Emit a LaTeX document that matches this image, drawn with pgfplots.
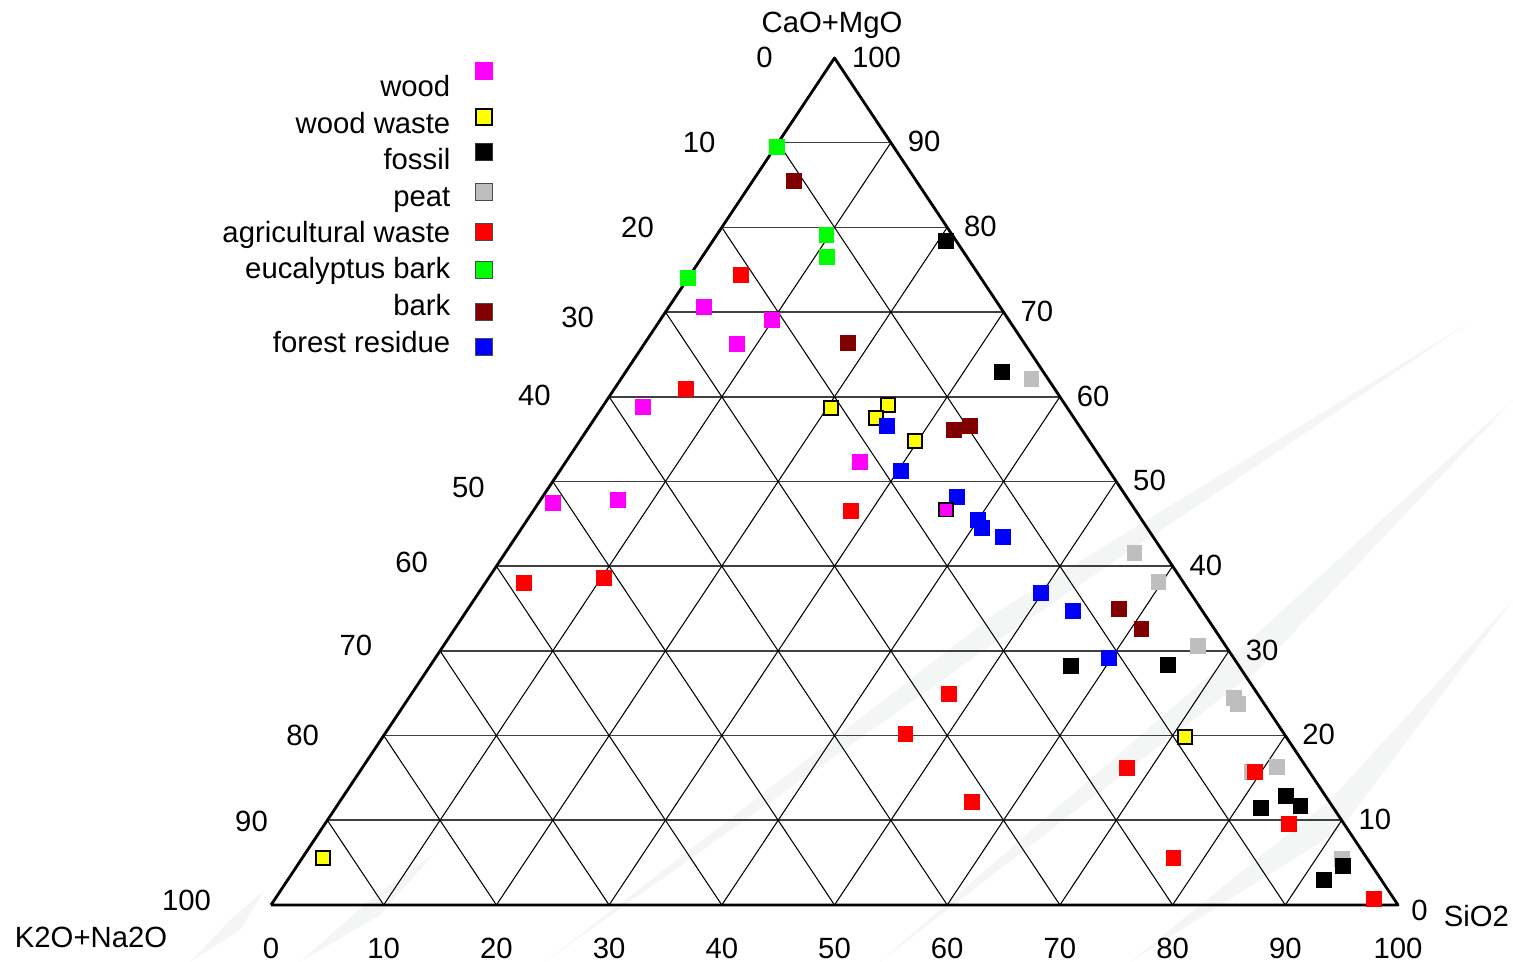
\documentclass[border=0pt]{standalone}
\usepackage{pgfplots}
\pgfplotsset{compat=1.18}
\usepackage{fontspec}
\setmainfont{Liberation Sans}
\definecolor{peat}{HTML}{BEBEBE}
\definecolor{barkc}{HTML}{800000}
\definecolor{mag}{HTML}{FF00FF}
\definecolor{grn}{HTML}{00FF00}
\definecolor{yel}{HTML}{FFFF00}
\definecolor{rd}{HTML}{FF0000}
\definecolor{bl}{HTML}{0000FF}
\definecolor{wm}{HTML}{F4F6F5}
\definecolor{hgrid}{HTML}{404040}
\tikzset{lbl/.style={font=\fontsize{8.33}{10}\selectfont, inner sep=0pt}}
\pgfplotsset{
  pt/.style={only marks, mark=square*, mark size=2.1pt, mark options={line width=0.1pt}},
  bpt/.style={only marks, mark=square*, mark size=1.95pt, mark options={draw=black, line width=0.6pt}},
  lg/.style={only marks, mark=square*, mark size=2.45pt, mark options={line width=0.4pt}}}
\begin{document}
\begin{tikzpicture}
\begin{axis}[width=15.13cm,height=9.62cm,scale only axis,hide axis,clip=false,
  xmin=-24.046,xmax=110.204,ymin=-6.730,ymax=106.848]

% faint watermark streaks
\addplot[fill=wm, draw=none] coordinates {(24.31,-6.73) (64.69,34.83) (106.39,68.83) (65.57,32.23)};
\addplot[fill=wm, draw=none] coordinates {(54.04,-6.73) (86.87,31.29) (110.2,59.62) (87.76,27.98)};
\addplot[fill=wm, draw=none] coordinates {(76.22,-6.73) (93.97,12.40) (110.2,36.01) (94.86,8.85)};
\addplot[fill=wm, draw=none] coordinates {(2.57,-6.73) (8.78,0.59) (14.55,6.14) (9.67,-1.18)};
\addplot[fill=wm, draw=none] coordinates {(-7.19,-6.73) (-3.64,-1.77) (-0.53,1.77) (-2.75,-2.95)};

% grid: horizontal
\addplot[hgrid, line width=0.45pt, unbounded coords=jump] coordinates {
(5,10) (95,10) (nan,nan) (10,20) (90,20) (nan,nan) (15,30) (85,30) (nan,nan)
(20,40) (80,40) (nan,nan) (25,50) (75,50) (nan,nan) (30,60) (70,60) (nan,nan)
(35,70) (65,70) (nan,nan) (40,80) (60,80) (nan,nan) (45,90) (55,90)};
% grid: parallel to left side
\addplot[black, line width=0.3pt, unbounded coords=jump] coordinates {
(10,0) (55,90) (nan,nan) (20,0) (60,80) (nan,nan) (30,0) (65,70) (nan,nan)
(40,0) (70,60) (nan,nan) (50,0) (75,50) (nan,nan) (60,0) (80,40) (nan,nan)
(70,0) (85,30) (nan,nan) (80,0) (90,20) (nan,nan) (90,0) (95,10)};
% grid: parallel to right side
\addplot[black, line width=0.3pt, unbounded coords=jump] coordinates {
(10,0) (5,10) (nan,nan) (20,0) (10,20) (nan,nan) (30,0) (15,30) (nan,nan)
(40,0) (20,40) (nan,nan) (50,0) (25,50) (nan,nan) (60,0) (30,60) (nan,nan)
(70,0) (35,70) (nan,nan) (80,0) (40,80) (nan,nan) (90,0) (45,90)};
% triangle
\addplot[black, line width=0.8pt, line join=round] coordinates {(0,0) (100,0) (50,100) (0,0)};

% peat
\addplot[pt, color=peat] coordinates {(67.44,62.10) (76.58,41.56) (78.71,38.13) (82.25,30.58) (85.45,24.44) (85.80,23.73) (89.26,16.29) (86.96,15.70) (95.03,5.43)};
% wood waste
\addplot[bpt, mark options={fill=yel}] coordinates {(49.69,58.68) (54.75,59.03) (53.68,57.50) (57.14,54.78) (81.10,19.83) (4.61,5.55)};
% fossil
\addplot[pt, color=black] coordinates {(59.89,78.39) (64.86,62.93) (70.98,28.22) (79.59,28.34) (90.06,12.87) (91.31,11.69) (87.84,11.45) (95.12,4.60) (93.43,2.95)};
% agricultural waste
\addplot[pt, color=rd] coordinates {(41.70,74.38) (36.82,60.92) (51.46,46.52) (22.45,38.02) (29.55,38.61) (60.16,24.91) (56.26,20.19) (75.95,16.17) (62.20,12.16) (80.04,5.55) (87.31,15.70) (90.33,9.56) (97.87,0.71)};
% eucalyptus bark
\addplot[pt, color=grn] coordinates {(44.90,89.49) (49.25,79.10) (49.33,76.51) (37.00,74.03)};
% bark
\addplot[pt, color=barkc] coordinates {(46.41,85.48) (51.20,66.35) (60.60,56.08) (62.02,56.55) (75.24,34.95) (77.20,32.59)};
% forest residue
\addplot[pt, color=bl] coordinates {(54.66,56.55) (55.90,51.24) (60.87,48.17) (62.73,45.45) (63.09,44.51) (64.95,43.45) (68.32,36.84) (71.16,34.71) (74.36,29.16)};
% wood
\addplot[pt, color=mag] coordinates {(38.42,70.60) (44.45,69.07) (41.35,66.23) (33.01,58.80) (52.26,52.30) (25.02,47.46) (30.79,47.82)};
\addplot[bpt, mark options={fill=mag}] coordinates {(59.89,46.64)};

% legend markers
\addplot[lg, color=mag] coordinates {(18.90,98.47)};
\addplot[lg, mark options={draw=black, fill=yel, line width=0.6pt}, mark size=2.3pt] coordinates {(18.90,93.03)};
\addplot[lg, mark options={draw=black!80, fill=black}] coordinates {(18.90,88.90)};
\addplot[lg, mark options={draw=black!70, fill=peat}] coordinates {(18.90,84.18)};
\addplot[lg, mark options={draw=black!70, fill=rd}] coordinates {(18.90,79.46)};
\addplot[lg, mark options={draw=black!70, fill=grn}] coordinates {(18.90,74.97)};
\addplot[lg, mark options={draw=black!70, fill=barkc}] coordinates {(18.90,70.01)};
\addplot[lg, mark options={draw=black!70, fill=bl}] coordinates {(18.90,65.88)};

% legend labels
\node[lbl, anchor=base east] at (axis cs:15.97,95.40) {wood};
\node[lbl, anchor=base east] at (axis cs:15.97,91.03) {wood waste};
\node[lbl, anchor=base east] at (axis cs:15.97,86.78) {fossil};
\node[lbl, anchor=base east] at (axis cs:15.97,82.41) {peat};
\node[lbl, anchor=base east] at (axis cs:15.97,78.16) {agricultural waste};
\node[lbl, anchor=base east] at (axis cs:15.97,73.91) {eucalyptus bark};
\node[lbl, anchor=base east] at (axis cs:15.97,69.54) {bark};
\node[lbl, anchor=base east] at (axis cs:15.97,65.17) {forest residue};

% axis titles
\node[lbl, anchor=base] at (axis cs:49.78,102.95) {CaO+MgO};
\node[lbl] at (axis cs:-15.97,-3.78) {K2O+Na2O};
\node[lbl, anchor=west] at (axis cs:104.0,-1.30) {SiO2};

% top labels
\node[lbl] at (axis cs:43.79,100.12) {0};
\node[lbl] at (axis cs:53.73,100.12) {100};

% left labels
\node[lbl] at (axis cs:37.98,90.08) {10};
\node[lbl] at (axis cs:32.52,80.05) {20};
\node[lbl] at (axis cs:27.20,69.42) {30};
\node[lbl] at (axis cs:23.38,60.21) {40};
\node[lbl] at (axis cs:17.52,49.35) {50};
\node[lbl] at (axis cs:12.47,40.50) {60};
\node[lbl] at (axis cs:7.54,30.70) {70};
\node[lbl] at (axis cs:2.80,20.07) {80};
\node[lbl] at (axis cs:-1.73,9.92) {90};
\node[lbl] at (axis cs:-7.50,0.59) {100};

% right labels
\node[lbl] at (axis cs:57.95,90.1) {90};
\node[lbl] at (axis cs:62.95,80.1) {80};
\node[lbl] at (axis cs:67.95,70.1) {70};
\node[lbl] at (axis cs:72.95,60.1) {60};
\node[lbl] at (axis cs:77.95,50.1) {50};
\node[lbl] at (axis cs:82.95,40.1) {40};
\node[lbl] at (axis cs:87.95,30.1) {30};
\node[lbl] at (axis cs:92.95,20.1) {20};
\node[lbl] at (axis cs:97.95,10.1) {10};
\node[lbl] at (axis cs:101.91,-0.59) {0};

% bottom labels
\node[lbl] at (axis cs:0,-5.08) {0};
\node[lbl] at (axis cs:10,-5.08) {10};
\node[lbl] at (axis cs:20,-5.08) {20};
\node[lbl] at (axis cs:30,-5.08) {30};
\node[lbl] at (axis cs:40,-5.08) {40};
\node[lbl] at (axis cs:50,-5.08) {50};
\node[lbl] at (axis cs:60,-5.08) {60};
\node[lbl] at (axis cs:70,-5.08) {70};
\node[lbl] at (axis cs:80,-5.08) {80};
\node[lbl] at (axis cs:90,-5.08) {90};
\node[lbl] at (axis cs:100,-5.08) {100};
\end{axis}
\pgfresetboundingbox
\path (current axis.south west) rectangle (current axis.north east);
\end{tikzpicture}
\end{document}
